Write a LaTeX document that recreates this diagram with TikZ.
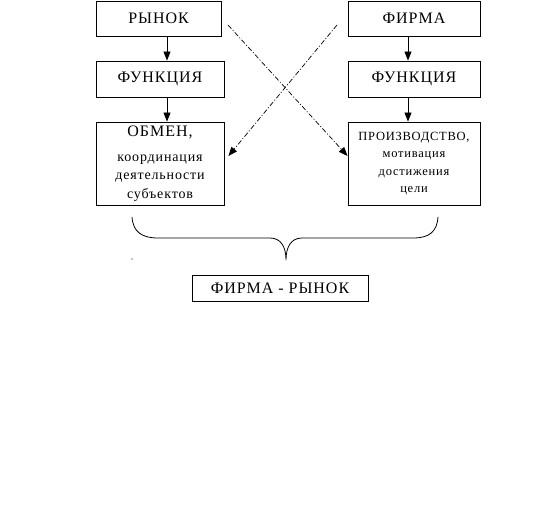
\documentclass[tikz,border=0pt]{standalone}
\usepackage{fontspec}
\setmainfont{Liberation Serif}[LetterSpace=6]
\usetikzlibrary{arrows.meta}
\begin{document}
\begin{tikzpicture}[x=1pt,y=-1pt,
  box/.style={draw, line width=0.9pt, inner sep=0pt, align=center,
              font=\fontsize{16}{18.5}\selectfont},
  arr/.style={-{Triangle[length=9pt,width=7pt]}, line width=0.9pt},
  dd/.style={-{Triangle[length=9pt,width=7pt]}, line width=0.7pt,
             dash pattern=on 5pt off 2pt on 1pt off 2pt}]
\useasboundingbox (0,0) rectangle (560,524);
% left column
\node[box, minimum width=125pt, minimum height=35pt] (market) at (158.5,18.5) {РЫНОК};
\node[box, minimum width=128pt, minimum height=36pt] (funcL) at (160,79) {ФУНКЦИЯ};
\node[box, minimum width=128pt, minimum height=83pt] (obmen) at (160,163.5)
  {ОБМЕН,\\[6pt]{\fontsize{14}{18.5}\selectfont координация}\\{\fontsize{14}{18.5}\selectfont деятельности}\\{\fontsize{14}{18.5}\selectfont субъектов}};
% right column
\node[box, minimum width=132pt, minimum height=35pt] (firm) at (414,18.5) {ФИРМА};
\node[box, minimum width=132pt, minimum height=36pt] (funcR) at (414,79) {ФУНКЦИЯ};
\node[box, minimum width=132pt, minimum height=83pt, font=\fontsize{12.5}{17.5}\selectfont] (prod) at (414,163.5)
  {ПРОИЗВОДСТВО,\\мотивация\\достижения\\цели};
% bottom
\node[box, minimum width=176pt, minimum height=26pt] (fr) at (280,288) {ФИРМА - РЫНОК};
% vertical arrows
\draw[arr] ([xshift=7pt]funcL.north |- market.south) -- ([xshift=7pt]funcL.north);
\draw[arr] ([xshift=7pt]funcL.south) -- ([xshift=7pt]obmen.north);
\draw[arr] ([xshift=-6pt]firm.south) -- ([xshift=-6pt]funcR.north);
\draw[arr] ([xshift=-6pt]funcR.south) -- ([xshift=-6pt]prod.north);
% crossing dash-dot arrows
\coordinate (s1) at (228,25);
\coordinate (s2) at (337,25);
\draw[dd] (s1) -- ([yshift=7.5pt]prod.west);
\draw[dd] (s2) -- ([xshift=4pt,yshift=7.5pt]obmen.east);
% brace
\draw[line width=0.8pt] (132,217) .. controls (133,232) and (142,238) .. (158,238)
  -- (270,238) .. controls (281,238) and (286,247) .. (286,260)
  .. controls (286,247) and (291,238) .. (302,238)
  -- (413,238) .. controls (429,238) and (437,232) .. (438,217);
\fill (132,259) circle (0.6pt);
\end{tikzpicture}
\end{document}
